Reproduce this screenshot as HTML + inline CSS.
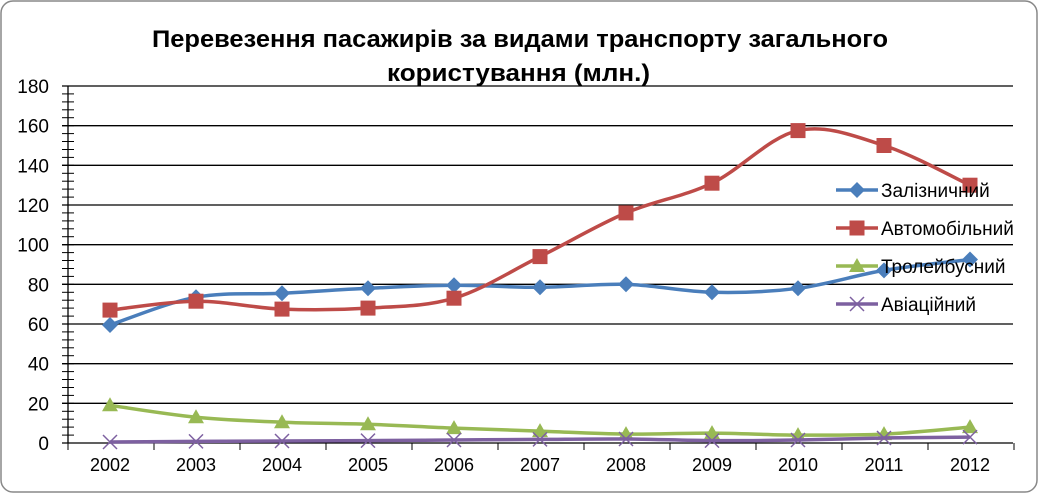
<!DOCTYPE html>
<html><head><meta charset="utf-8"><style>
html,body{margin:0;padding:0;background:#fff}
svg{display:block;font-family:"Liberation Sans","DejaVu Sans",sans-serif}
</style></head><body>
<svg id="c" width="1039" height="494" viewBox="0 0 1039 494" xmlns="http://www.w3.org/2000/svg">
<rect x="1" y="1" width="1036" height="491" rx="12" fill="#fff" stroke="#888" stroke-width="1.5"/>
<text x="152" y="47" textLength="736" lengthAdjust="spacingAndGlyphs" font-size="24" font-weight="bold">Перевезення пасажирів за видами транспорту загального</text>
<text x="387" y="81" textLength="263" lengthAdjust="spacingAndGlyphs" font-size="24" font-weight="bold">користування (млн.)</text>
<g id="g"></g>
</svg>
<script>
var g=document.getElementById('g'),s='';
var Y0=443,k=(443-86)/180;
function y(v){return Y0-v*k}
function xi(i){return 110+i*86}
for(var v=0;v<=180;v+=20){var yy=y(v).toFixed(1);s+='<line x1="62" x2="1013" y1="'+yy+'" y2="'+yy+'" stroke="#000" stroke-width="1.3"/>';s+='<text x="49" y="'+(y(v)+7)+'" text-anchor="end" font-size="19">'+v+'</text>';}
for(var v=0;v<=180;v+=4){var yy=y(v).toFixed(1);s+='<line x1="62" x2="74" y1="'+yy+'" y2="'+yy+'" stroke="#000" stroke-width="1"/>';}
s+='<line x1="68" x2="68" y1="86" y2="443" stroke="#000" stroke-width="1.3"/>';
for(var i=0;i<=11;i++){var xx=68+i*86;s+='<line x1="'+xx+'" x2="'+xx+'" y1="443" y2="450" stroke="#000"/>';}
for(var i=0;i<11;i++)s+='<text x="'+xi(i)+'" y="471" text-anchor="middle" font-size="18">'+(2002+i)+'</text>';
var D=[
 ['#4a7ebb','d',[59.5,73.5,75.5,78,79.5,78.5,80,76,78,87,92.5]],
 ['#be4b48','s',[67,71.5,67.5,68,73,94,116,131,157.5,150,130]],
 ['#98b954','t',[19,13,10.5,9.5,7.5,6,4.5,5,4,4.5,8]],
 ['#7d60a0','x',[0.5,0.8,1,1.2,1.5,1.8,2,1.2,1.5,2.5,3]]];
function path(p){var d='M'+p[0][0]+','+p[0][1];for(var i=0;i<p.length-1;i++){var a=p[i-1]||p[i],b=p[i],c=p[i+1],e=p[i+2]||c,t=6;
d+=' C'+(b[0]+(c[0]-a[0])/t)+','+(b[1]+(c[1]-a[1])/t)+' '+(c[0]-(e[0]-b[0])/t)+','+(c[1]-(e[1]-b[1])/t)+' '+c[0]+','+c[1];}return d}
function mk(t,x,yy,col){if(t=='d')return '<polygon points="'+x+','+(yy-8)+' '+(x+8)+','+yy+' '+x+','+(yy+8)+' '+(x-8)+','+yy+'" fill="'+col+'"/>';
if(t=='s')return '<rect x="'+(x-7.5)+'" y="'+(yy-7.5)+'" width="15" height="15" fill="'+col+'"/>';
if(t=='t')return '<polygon points="'+x+','+(yy-8)+' '+(x+8)+','+(yy+6)+' '+(x-8)+','+(yy+6)+'" fill="'+col+'"/>';
return '<path d="M'+(x-7)+','+(yy-7)+'L'+(x+7)+','+(yy+7)+'M'+(x+7)+','+(yy-7)+'L'+(x-7)+','+(yy+7)+'" stroke="'+col+'" stroke-width="1.5"/>';}
var names=['Залізничний','Автомобільний','Тролейбусний','Авіаційний'];
D.forEach(function(d,j){var p=d[2].map(function(v,i){return [xi(i),+y(v).toFixed(1)]});
s+='<path d="'+path(p)+'" fill="none" stroke="'+d[0]+'" stroke-width="3.5"/>';
p.forEach(function(q){s+=mk(d[1],q[0],q[1],d[0])});});
D.forEach(function(d,j){var ly=190+j*38;s+='<line x1="836" x2="878" y1="'+ly+'" y2="'+ly+'" stroke="'+d[0]+'" stroke-width="3.5"/>'+mk(d[1],857,ly,d[0]);
s+='<text x="881" y="'+(ly+7)+'" font-size="19">'+names[j]+'</text>';});
g.innerHTML=s;
</script>
</body></html>
